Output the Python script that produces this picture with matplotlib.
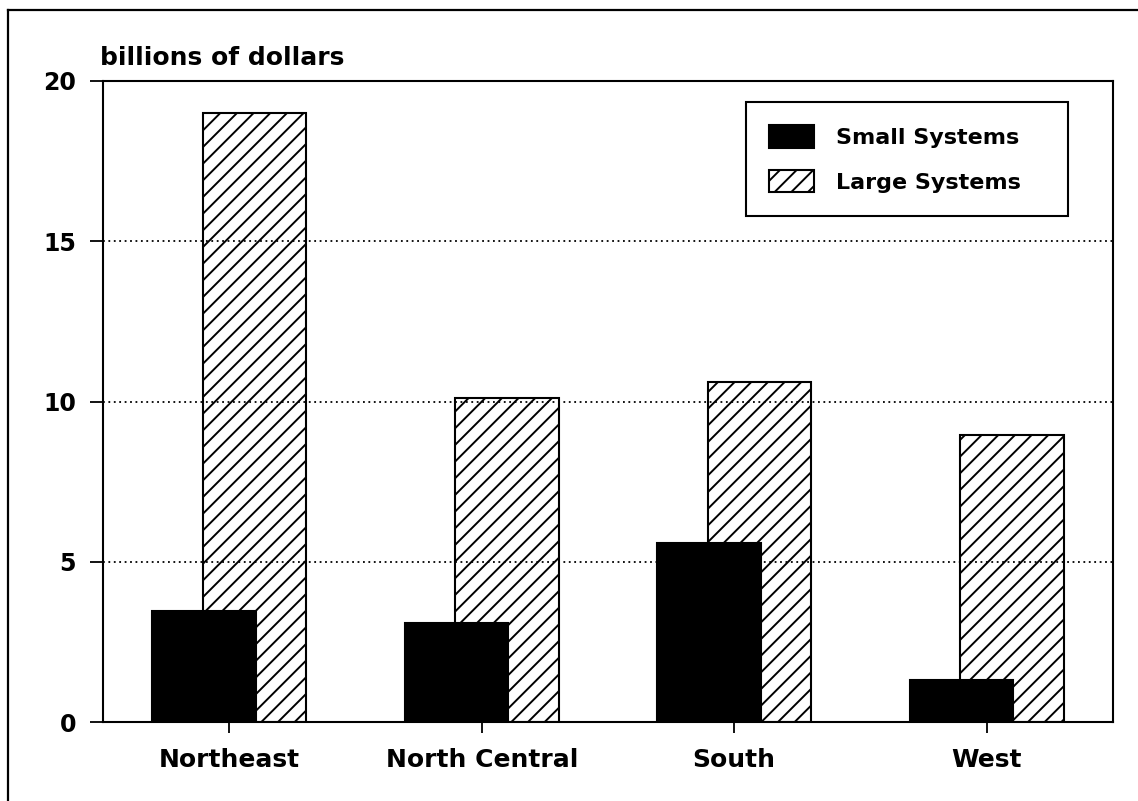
import matplotlib
matplotlib.use("Agg")
from matplotlib import pyplot as plt
from matplotlib.lines import Line2D
import numpy as np

regions = ["Northeast", "North Central", "South", "West"]
small_systems = [3.45, 3.1, 5.6, 1.3]
large_systems = [19.0, 10.1, 10.6, 8.95]
y_ticks = [0, 5, 10, 15, 20]

plt.rcParams["font.family"] = ["DejaVu Sans"]
plt.rcParams["font.weight"] = "bold"
plt.rcParams["hatch.linewidth"] = 1.4

fig = plt.figure(figsize=(11.38, 8.01), dpi=100)
ax = fig.add_axes([0.0905, 0.0986, 0.8875, 0.8003])

x = np.arange(len(regions))
width = 0.41
off = 0.1

# hatched bars behind, black ones in front
ax.bar(x + off, large_systems, width, color="white", edgecolor="black",
       hatch="//", linewidth=1.5, label="Large Systems   ", zorder=2)
ax.bar(x - off, small_systems, width, color="black", edgecolor="black",
       linewidth=1.5, label="Small Systems   ", zorder=3)

ax.set_xlim(-0.5, 3.5)
ax.set_ylim(0, 20)
ax.set_yticks(y_ticks)
ax.set_xticks(x)
ax.set_xticklabels(regions, fontsize=18, fontweight="bold")
ax.set_yticklabels([str(t) for t in y_ticks], fontsize=17, fontweight="bold")

ax.tick_params(axis="y", direction="out", length=9.5, width=1.3, pad=10)
ax.tick_params(axis="x", direction="out", length=8, width=1.3, pad=11)

for sp in ax.spines.values():
    sp.set_linewidth(1.5)
    sp.set_color("black")

ax.yaxis.grid(True, linestyle=(0, (1, 2)), color="black", linewidth=1.3, zorder=4)
ax.set_axisbelow(False)

fig.text(100 / 1138, 1 - 65 / 801, "billions of dollars", fontsize=18,
         fontweight="bold", va="baseline", ha="left")

handles, labels = ax.get_legend_handles_labels()
leg = ax.legend(handles[::-1], labels[::-1], loc="upper right",
                bbox_to_anchor=(0.955, 0.967), fontsize=16, frameon=True,
                fancybox=False, shadow=False, framealpha=1.0,
                handlelength=2.0, handleheight=1.15,
                handletextpad=1.0, labelspacing=1.0, borderpad=1.05,
                borderaxespad=0.0, edgecolor="black")
leg.get_frame().set_linewidth(1.5)
leg.set_zorder(5)

# outer frame of the scanned page (only top and left edges are visible)
fig.add_artist(Line2D([8 / 1138, 1.0], [1 - 10 / 801, 1 - 10 / 801],
                      transform=fig.transFigure, color="black", linewidth=1.6))
fig.add_artist(Line2D([8 / 1138, 8 / 1138], [0.0, 1 - 10 / 801],
                      transform=fig.transFigure, color="black", linewidth=1.6))

fig.savefig("out.png", dpi=100)
